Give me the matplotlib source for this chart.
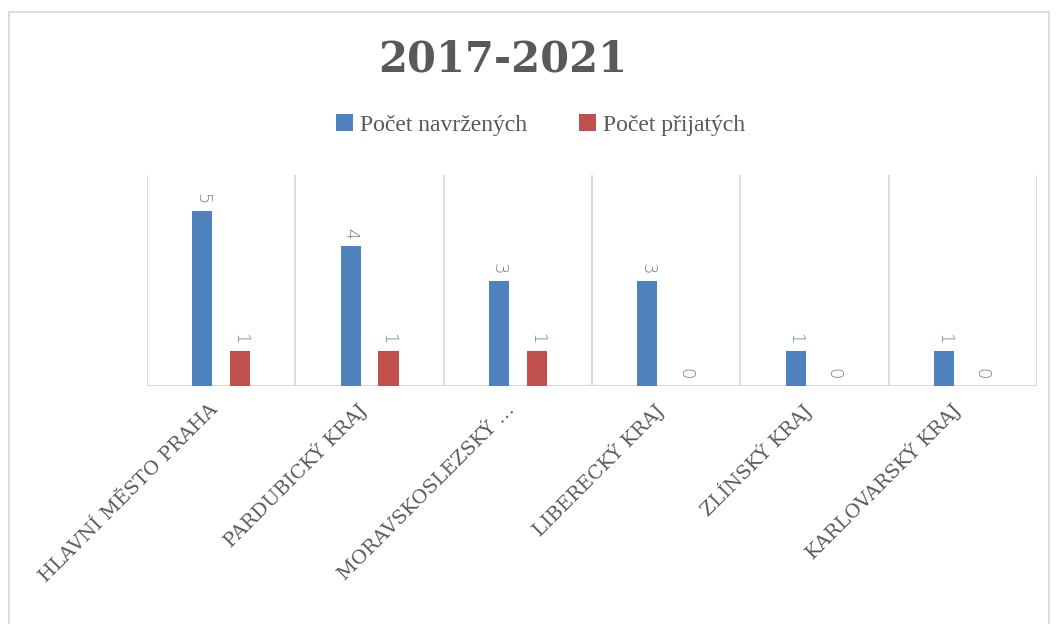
import numpy as np
import matplotlib
matplotlib.use("Agg")
import matplotlib.pyplot as plt
from matplotlib.patches import Rectangle

categories = [
    "HLAVNÍ MĚSTO PRAHA",
    "PARDUBICKÝ KRAJ",
    "MORAVSKOSLEZSKÝ …",
    "LIBERECKÝ KRAJ",
    "ZLÍNSKÝ KRAJ",
    "KARLOVARSKÝ KRAJ",
]
navrzenych = [5, 4, 3, 3, 1, 1]
prijatych = [1, 1, 1, 0, 0, 0]
series_names = ["Počet navržených", "Počet přijatých"]
title = "2017-2021"

BLUE = "#4F81BD"
RED = "#C0504D"
GRID = "#D9D9D9"
TEXT = "#595959"

fig = plt.figure(figsize=(10.6, 6.24), dpi=100)
ax = fig.add_axes([0.1387, 0.3814, 0.8396, 0.3382])

x = np.arange(len(categories))
w = 0.135
off = 0.128
b1 = ax.bar(x - off, navrzenych, w, color=BLUE, label=series_names[0], zorder=3)
b2 = ax.bar(x + off, prijatych, w, color=RED, label=series_names[1], zorder=3)

for bars, vals in ((b1, navrzenych), (b2, prijatych)):
    for rect, v in zip(bars, vals):
        ax.annotate(str(v), (rect.get_x() + rect.get_width() / 2, v),
                    xytext=(0, 5), textcoords="offset points",
                    rotation=-90, ha="center", va="bottom",
                    fontsize=13, color="#7F7F7F", family="DejaVu Sans",
                    fontweight="light")

ax.set_xlim(-0.5, len(categories) - 0.5)
ax.set_ylim(0, 6.03)
for b in np.arange(-0.5, len(categories), 1.0):
    ax.axvline(b, color=GRID, lw=1.3, zorder=1)
ax.axhline(0, color=GRID, lw=1.5, zorder=2)

for s in ax.spines.values():
    s.set_visible(False)
ax.set_yticks([])
ax.set_xticks(x - 0.04)
ax.set_xticklabels(categories, rotation=45, ha="right", va="center",
                   rotation_mode="anchor", fontsize=14,
                   family="DejaVu Serif", color=TEXT)
ax.tick_params(axis="x", length=0, pad=15)

fig.text(0.474, 0.905, title, ha="center", va="center", fontsize=30,
         fontweight="bold", family="DejaVu Serif", color=TEXT)

fig.legend(loc="center", bbox_to_anchor=(0.51, 0.80), ncol=2, frameon=False,
           prop={"family": "Liberation Serif", "size": 17},
           labelcolor=TEXT, handlelength=0.7, handleheight=0.7,
           handletextpad=0.3, columnspacing=2.2)

fig.patches.append(Rectangle((0.0085, -0.05), 0.981, 1.031,
                             transform=fig.transFigure, fill=False,
                             edgecolor=GRID, lw=1.3))

fig.savefig("out.png", dpi=100, facecolor="white")
